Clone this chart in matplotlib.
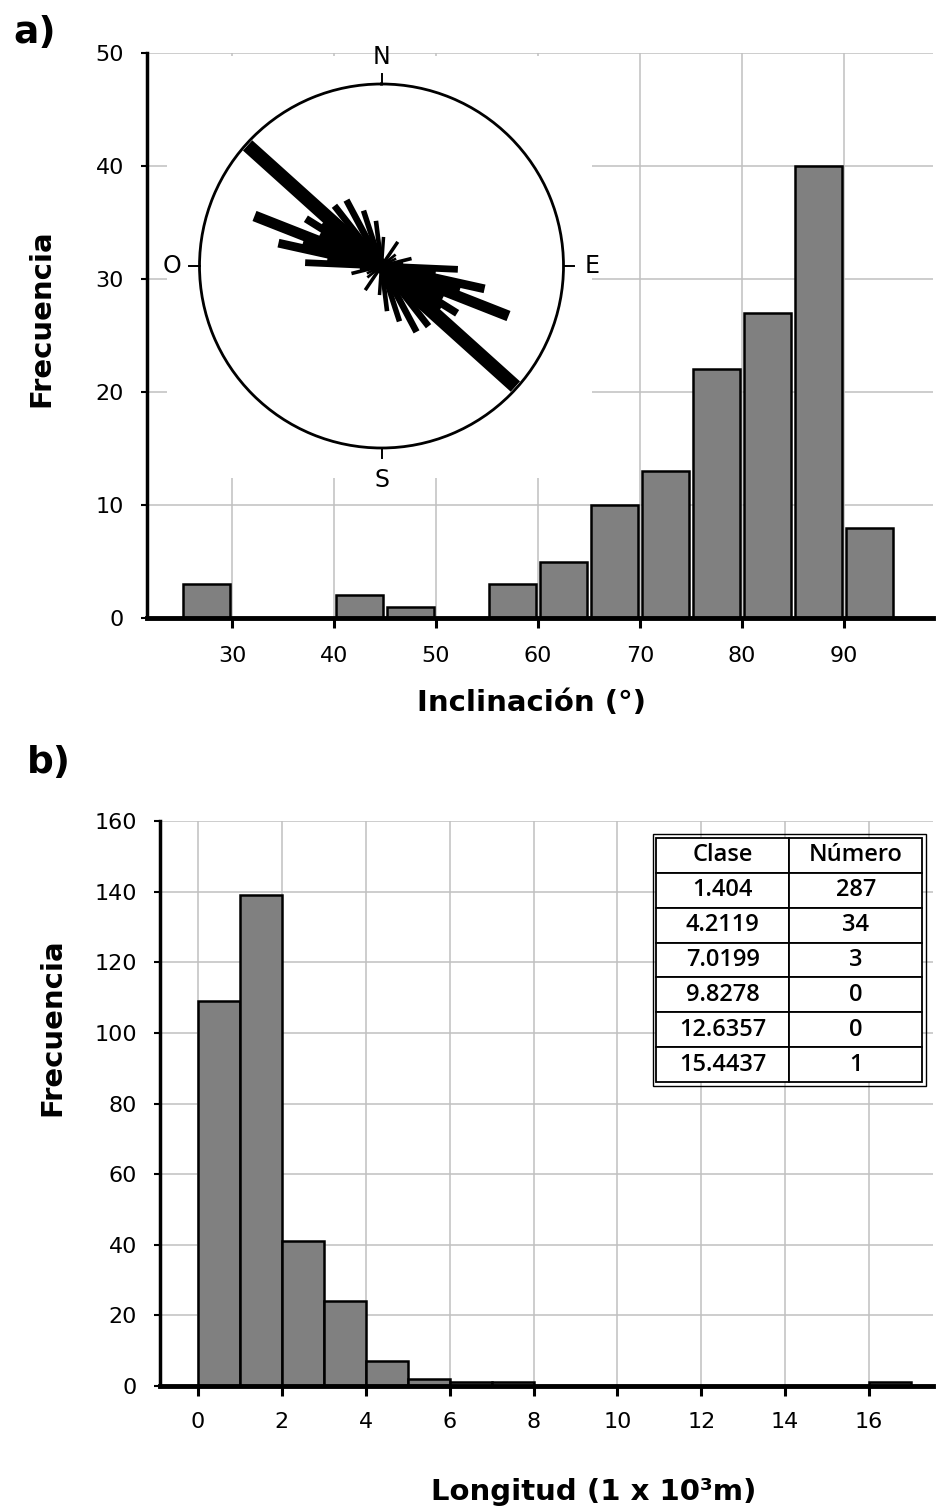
import matplotlib
matplotlib.use('Agg')
import matplotlib.pyplot as plt
import numpy as np
from matplotlib.patches import Rectangle

# ---------------- data: panel a (inclination histogram) ----------------
incl_bin_start = [25, 30, 35, 40, 45, 50, 55, 60, 65, 70, 75, 80, 85, 90]
incl_freq = [3, 0, 0, 2, 1, 0, 3, 5, 10, 13, 22, 27, 40, 8]
incl_ticks = [30, 40, 50, 60, 70, 80, 90]
freq_ticks_a = [0, 10, 20, 30, 40, 50]

# rose diagram (bidirectional): azimuth (deg) and relative length
rose_azimuth = [92.5, 97, 102.5, 107, 111.5, 117, 122, 127, 132, 137, 142, 152, 162, 173,
                4, 34, 51, 63, 76, 83]
rose_length = [0.42, 0.30, 0.58, 0.45, 0.75, 0.38, 0.49, 0.40, 0.99, 0.30, 0.42, 0.41, 0.32, 0.25,
               0.16, 0.16, 0.10, 0.09, 0.17, 0.12]
compass_labels = ['N', 'E', 'S', 'O']
compass_azimuth = [0, 90, 180, 270]

# ---------------- data: panel b (length histogram) ----------------
long_bin_start = [0, 1, 2, 3, 4, 5, 6, 7, 16]
long_freq = [109, 139, 41, 24, 7, 2, 1, 1, 1]
long_ticks = [0, 2, 4, 6, 8, 10, 12, 14, 16]
freq_ticks_b = [0, 20, 40, 60, 80, 100, 120, 140, 160]

table_header = ['Clase', 'Número']
table_clase = ['1.404', '4.2119', '7.0199', '9.8278', '12.6357', '15.4437']
table_numero = ['287', '34', '3', '0', '0', '1']

# ---------------- figure ----------------
W, H = 936, 1506
fig = plt.figure(figsize=(W / 100, H / 100), dpi=100)
plt.rcParams['font.family'] = ['DejaVu Sans']

GRID = '#c0c0c0'
BAR = '#808080'


def fx(px):
    return px / W


def fy(py):
    return 1 - py / H


def style_axes(ax):
    ax.spines['top'].set_visible(False)
    ax.spines['right'].set_visible(False)
    ax.spines['left'].set_linewidth(2.5)
    ax.spines['bottom'].set_linewidth(3.5)
    ax.grid(True, color=GRID, linewidth=1.1)
    ax.set_axisbelow(True)
    ax.tick_params(axis='x', direction='out', length=7, width=2.2, pad=13, labelsize=16)
    ax.tick_params(axis='y', direction='out', length=4.5, width=1.5, pad=12, labelsize=16)


# ---- panel a ----
ax1 = fig.add_axes([fx(147), fy(618), fx(933 - 147), (618 - 53) / H])
ax1.bar(np.array(incl_bin_start) + 2.5, incl_freq, width=4.6, color=BAR,
        edgecolor='black', linewidth=1.8, zorder=2)
ax1.set_xlim(30 + (147 - 232) / 10.2, 30 + (933 - 232) / 10.2)
ax1.set_ylim(0, 50)
ax1.set_xticks(incl_ticks)
ax1.set_yticks(freq_ticks_a)
style_axes(ax1)
ax1.set_xlabel('Inclinación (°)', fontsize=21, fontweight='bold')
ax1.xaxis.set_label_coords(0.489, -0.165)
ax1.xaxis.label.set_va('baseline')
ax1.set_ylabel('Frecuencia', fontsize=21, fontweight='bold')
ax1.yaxis.set_label_coords(-0.134, 0.531)
ax1.yaxis.label.set_va('center')

# white box behind the rose (hides grid)
ax1.add_patch(Rectangle((fx(167), fy(478)), fx(592 - 167), (478 - 56) / H,
                        transform=fig.transFigure, facecolor='white',
                        edgecolor='none', zorder=1))

# rose inset
cx, cy, R = 381.5, 266, 182
axp = fig.add_axes([fx(cx - R), fy(cy + R), fx(2 * R), 2 * R / H], projection='polar')
axp.set_theta_zero_location('N')
axp.set_theta_direction(-1)
axp.set_ylim(0, 1)
axp.set_xticks([])
axp.set_yticks([])
axp.grid(False)
axp.patch.set_facecolor('white')
axp.spines['polar'].set_linewidth(2.0)
for az, L in zip(rose_azimuth, rose_length):
    t = np.deg2rad(az)
    lw = (1.5 + 12.5 * L) / 1.389
    for tt in (t, t + np.pi):
        axp.plot([tt, tt], [0, L], color='black', lw=lw, solid_capstyle='butt')
label_r = {'N': 1.146, 'E': 1.157, 'S': 1.175, 'O': 1.151}
for lab, az in zip(compass_labels, compass_azimuth):
    t = np.deg2rad(az)
    axp.plot([t, t], [1.0, 1.055], color='black', lw=1.4, clip_on=False)
    axp.text(t, label_r[lab], lab, ha='center', va='center', fontsize=17, clip_on=False)

fig.text(fx(13), fy(43), 'a)', fontsize=27, fontweight='bold', ha='left', va='baseline')

# ---- panel b ----
ax2 = fig.add_axes([fx(160), fy(1386), fx(933 - 160), (1386 - 821) / H])
ax2.bar(long_bin_start, long_freq, width=1.0, align='edge', color=BAR,
        edgecolor='black', linewidth=1.8, zorder=2)
ax2.set_xlim((160 - 198) / 41.94, (933 - 198) / 41.94)
ax2.set_ylim(0, 160)
ax2.set_xticks(long_ticks)
ax2.set_yticks(freq_ticks_b)
style_axes(ax2)
ax2.tick_params(axis='x', pad=12)
ax2.set_xlabel('Longitud (1 x 10³m)', fontsize=21, fontweight='bold')
ax2.xaxis.set_label_coords(0.561, -0.2018)
ax2.xaxis.label.set_va('baseline')
ax2.set_ylabel('Frecuencia', fontsize=21, fontweight='bold')
ax2.yaxis.set_label_coords(-0.139, 0.635)
ax2.yaxis.label.set_va('center')

rows = [[c, n] for c, n in zip(table_clase, table_numero)]
tb = [0.642, 0.538, 0.344, 0.432]
tbl = ax2.table(cellText=rows, colLabels=table_header, cellLoc='center', bbox=tb)
tbl.auto_set_font_size(False)
for (r, c), cell in tbl.get_celld().items():
    cell.set_edgecolor('black')
    cell.set_linewidth(1.3)
    cell.set_facecolor('white')
    txt = cell.get_text()
    txt.set_fontsize(17)
    txt.set_fontfamily(['Open Sans', 'DejaVu Sans'])
    txt.set_fontweight('semibold')
tbl.set_zorder(5)
dx, dy = 3.5 / 773, 3.5 / 565
ax2.add_patch(Rectangle((tb[0] - dx, tb[1] - dy), tb[2] + 2 * dx, tb[3] + 2 * dy,
                        transform=ax2.transAxes, fill=False, edgecolor='black',
                        linewidth=1.0, clip_on=False, zorder=5))

fig.text(fx(27), fy(773), 'b)', fontsize=27, fontweight='bold', ha='left', va='baseline')

fig.savefig('out.png', dpi=100)
